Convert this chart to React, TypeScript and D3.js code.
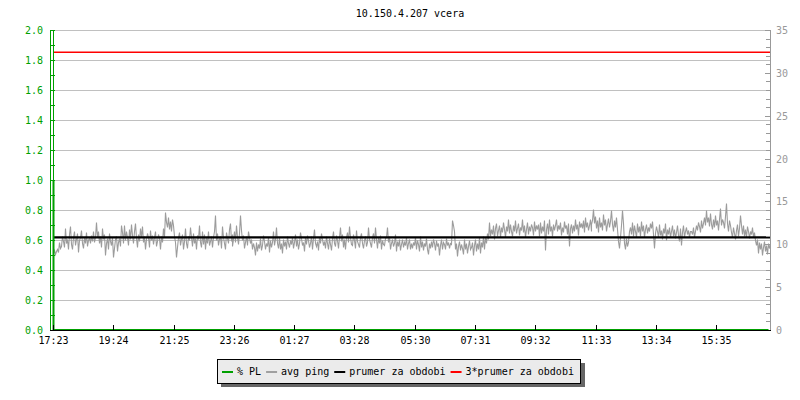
import React from 'react';
import * as d3 from 'd3';

const title = '10.150.4.207 vcera';
const xTickLabels = ['17:23', '19:24', '21:25', '23:26', '01:27', '03:28', '05:30', '07:31', '09:32', '11:33', '13:34', '15:35'];
const xTickStepMinutes = 121.08;
const totalMinutes = 1440;

// avg ping (ms), one sample every ~2 minutes
const pingValues = [
  9.0, 9.3, 8.9, 9.2, 9.5, 9.1, 10.3, 9.6, 9.8, 11.0, 10.4, 9.7, 11.9, 10.2, 10.6, 9.4, 11.2, 12.1, 10.0, 9.5,
  10.8, 11.5, 9.9, 10.6, 11.3, 9.1, 10.5, 10.9, 11.7, 10.2, 9.6, 10.8, 10.1, 11.4, 9.8, 10.5, 10.9, 10.2, 11.1, 10.4,
  11.6, 10.3, 10.9, 12.6, 10.8, 11.5, 10.2, 11.0, 9.7, 11.9, 10.6, 11.2, 8.8, 10.1, 10.7, 9.5, 11.3, 10.4, 9.9, 10.8,
  8.5, 9.6, 10.6, 11.0, 9.2, 10.3, 10.7, 9.8, 12.2, 11.4, 10.1, 12.3, 10.5, 11.6, 10.9, 9.9, 11.8, 10.6, 12.4, 11.1,
  10.2, 11.5, 12.5, 10.7, 9.7, 11.2, 10.4, 11.9, 10.8, 12.1, 10.3, 11.0, 9.4, 10.6, 11.3, 10.9, 9.7, 11.7, 10.5, 11.1,
  10.0, 10.8, 11.6, 9.8, 10.4, 11.2, 10.7, 9.5, 11.0, 10.3, 11.9, 10.8, 13.8, 12.6, 12.0, 13.2, 11.8, 12.7, 11.5, 12.9,
  12.2, 11.0, 10.3, 8.5, 9.7, 10.8, 11.4, 9.9, 10.6, 11.2, 9.5, 10.4, 11.9, 10.2, 9.6, 11.0, 10.5, 12.0, 10.9, 9.8,
  11.3, 10.1, 10.7, 9.4, 11.1, 10.6, 12.3, 10.3, 9.7, 11.5, 10.0, 11.2, 9.5, 10.8, 10.2, 11.6, 9.9, 10.4, 11.0, 9.7,
  10.9, 11.6, 13.4, 10.5, 11.3, 9.9, 10.6, 11.0, 9.6, 12.1, 10.8, 10.2, 9.5, 11.4, 10.7, 10.1, 11.8, 12.5, 10.4, 11.2,
  9.8, 10.6, 11.5, 10.3, 12.2, 10.9, 10.0, 11.3, 13.4, 11.7, 10.5, 11.1, 9.6, 10.3, 11.0, 9.9, 11.6, 10.8, 10.2, 10.6,
  9.4, 10.1, 9.7, 8.8, 10.3, 9.2, 10.0, 9.6, 10.7, 9.3, 9.9, 11.1, 10.4, 9.5, 10.2, 9.8, 10.8, 9.1, 10.5, 9.7,
  10.3, 11.5, 9.9, 10.6, 12.0, 10.1, 9.6, 10.8, 9.4, 10.2, 9.0, 10.6, 9.8, 10.4, 9.5, 11.0, 10.1, 9.7, 10.5, 10.0,
  10.9, 9.6, 10.3, 11.2, 9.8, 10.6, 9.4, 10.1, 11.4, 10.7, 9.9, 10.3, 9.2, 10.8, 10.0, 11.1, 10.5, 9.7, 10.2, 11.0,
  9.5, 10.7, 11.8, 10.2, 9.8, 10.4, 9.3, 10.9, 10.1, 11.3, 10.6, 9.9, 10.4, 9.6, 11.0, 10.2, 9.4, 10.7, 10.0, 9.3,
  10.7, 11.6, 10.2, 9.8, 11.1, 10.5, 9.6, 10.9, 12.0, 10.4, 11.2, 9.7, 10.6, 9.5, 10.9, 11.4, 10.3, 12.1, 10.8, 10.0,
  9.9, 11.2, 10.5, 9.6, 11.7, 10.4, 10.0, 9.7, 10.8, 11.3, 10.1, 9.6, 10.5, 11.0, 9.8, 10.3, 12.0, 10.6, 10.1, 9.7,
  10.8, 11.3, 10.2, 12.0, 10.6, 9.6, 10.9, 10.2, 11.1, 9.4, 10.5, 10.0, 9.9, 10.7, 10.8, 12.0, 10.3, 11.0, 9.5, 10.2,
  10.6, 9.8, 10.1, 11.2, 9.2, 10.4, 9.8, 10.6, 9.3, 10.0, 10.6, 9.7, 10.3, 9.9, 10.8, 9.5, 10.2, 10.6, 9.4, 10.1,
  9.6, 10.3, 9.9, 10.8, 9.4, 10.5, 10.0, 9.2, 11.0, 9.7, 10.4, 9.3, 10.1, 9.8, 10.7, 9.5, 8.9, 10.2, 9.6, 10.4,
  9.7, 10.6, 10.1, 9.3, 10.5, 9.8, 10.2, 8.8, 9.9, 10.6, 9.5, 10.3, 10.0, 9.4, 10.7, 9.9, 10.3, 9.6, 10.2, 10.0,
  12.8, 12.2, 11.5, 9.4, 10.1, 8.6, 9.8, 10.4, 9.3, 10.0, 9.6, 8.9, 10.6, 9.5, 10.2, 9.0, 9.8, 10.5, 9.4, 9.7,
  10.3, 8.7, 9.9, 10.6, 9.2, 10.1, 9.5, 10.8, 9.0, 10.3, 9.7, 11.0, 9.4, 10.8, 10.2, 11.3, 10.6, 12.6, 11.0, 11.8,
  11.2, 12.3, 10.6, 11.9, 12.5, 11.0, 11.7, 12.2, 10.8, 12.0, 11.4, 12.6, 11.8, 10.9, 12.1, 11.5, 13.0, 11.3, 12.4, 11.6,
  11.0, 12.2, 11.6, 12.8, 11.3, 11.9, 12.5, 11.1, 12.0, 11.7, 12.9, 11.4, 12.3, 10.9, 11.8, 12.6, 11.2, 12.1, 11.5, 12.4,
  12.0, 11.1, 12.7, 11.5, 12.2, 11.8, 12.4, 11.0, 12.6, 11.3, 12.1, 11.6, 12.8, 9.3, 11.8, 12.5, 11.2, 12.9, 11.6, 12.1,
  11.0, 12.4, 11.7, 12.2, 13.0, 11.5, 12.3, 11.8, 12.6, 11.1, 12.0, 11.4, 12.7, 11.9, 12.3, 11.2, 12.5, 9.8, 11.9, 12.4,
  11.3, 12.3, 11.6, 13.0, 11.8, 12.4, 11.1, 12.7, 12.0, 12.5, 11.9, 12.8, 11.4, 13.2, 12.0, 12.6, 11.7, 12.2, 12.9, 11.5,
  12.4, 12.8, 14.1, 12.5, 13.3, 11.9, 12.8, 11.4, 13.2, 12.0, 12.6, 11.7, 13.5, 12.2, 12.9, 11.6, 12.4, 13.1, 12.0, 12.7,
  14.0, 12.4, 11.5, 12.8, 12.0, 13.2, 11.8, 10.4, 9.6, 10.8, 12.2, 14.0, 12.5, 10.2, 9.4, 10.7, 9.8, 10.3, 11.6, 12.0,
  11.2, 12.6, 11.0, 12.3, 11.6, 10.9, 12.5, 11.4, 12.1, 11.0, 12.7, 11.5, 12.2, 10.9, 11.8, 12.4, 11.3, 12.0, 11.6, 12.5,
  11.9, 12.7, 11.2, 9.6, 11.3, 12.1, 11.5, 10.8, 12.4, 11.1, 11.7, 10.6, 11.9, 11.3, 12.5, 10.5, 11.8, 11.2, 12.0, 10.9,
  11.6, 12.2, 11.0, 11.8, 10.7, 11.4, 12.3, 11.1, 10.4, 11.9, 9.9, 11.4, 12.2, 10.9, 11.5, 12.0, 11.2, 11.7, 10.8, 11.6,
  11.6, 11.2, 12.0, 10.8, 11.5, 12.3, 11.7, 12.6, 12.1, 11.4, 12.8, 11.9, 12.5, 13.2, 12.2, 14.0, 12.6, 13.2, 12.1, 13.6,
  12.4, 11.8, 12.9, 12.0, 13.4, 12.3, 12.8, 11.7, 13.0, 14.2, 12.3, 13.0, 12.6, 11.9, 13.3, 14.8, 12.5, 11.6, 12.8, 12.2,
  11.4, 10.8, 12.0, 11.3, 10.6, 11.7, 12.4, 11.0, 11.9, 13.4, 12.2, 11.2, 12.3, 11.0, 11.8, 10.9, 12.1, 11.5, 10.7, 11.6,
  11.2, 12.0, 10.9, 11.4, 10.5, 9.9, 10.6, 9.0, 10.3, 9.5, 10.1, 8.8, 9.7, 10.4, 9.2, 9.9, 8.9, 10.2, 9.6, 10.0,
];

const meanPing = 10.8;
const plMinutes = [0, 4, 1436];
const plValues = [1.0, 0, 0];

const legendLabels = ['% PL', 'avg ping', 'prumer za obdobi', '3*prumer za obdobi'];
const legendColors = ['#00a000', '#a0a0a0', '#000000', '#ff0000'];

const GREEN = '#00a000';
const GRID = '#c0c0c0';
const FONT = '"DejaVu Sans Mono", monospace';
const CHAR_W = 6.02;

export default function App() {
  const left = 53, right = 770, top = 30, bottom = 330;
  const x = d3.scaleLinear().domain([0, totalMinutes]).range([left, right]);
  const yL = d3.scaleLinear().domain([0, 2]).range([bottom, top]);
  const yR = d3.scaleLinear().domain([0, 35]).range([bottom, top]);
  const step = totalMinutes / (pingValues.length - 1);

  const pingLine = d3.line<number>()
    .x((_, i) => Math.round(x(i * step)) + 0.5)
    .y((d) => Math.round(yR(d)) + 0.5)(pingValues) || '';

  const plLine = d3.line<number>()
    .curve(d3.curveStepBefore)
    .x((_, i) => x(plMinutes[i]) + 0.5)
    .y((d) => yL(d))(plValues) || '';

  const leftMinor = d3.range(0, 21).map((k) => k / 10);
  const leftMajor = d3.range(0, 11).map((k) => k / 5);
  const rightMinor = d3.range(0, 36);
  const rightMajor = d3.range(0, 36, 5);

  let cx = 222;
  const legendPos = legendLabels.map((lab) => {
    const sx = cx;
    const tx = sx + 15;
    cx = tx + lab.length * CHAR_W + 5;
    return { sx, tx };
  });

  const snap = (v: number) => Math.round(v) + 0.5;

  return (
    <svg width={800} height={400} style={{ position: 'absolute', left: 0, top: 0, background: '#fff' }}
      fontFamily={FONT} fontSize={10}>
      <rect x={0} y={0} width={800} height={400} fill="#fff" />
      <text x={410} y={14} textAnchor="middle" dominantBaseline="middle" fill="#000">{title}</text>

      {leftMajor.filter((v) => v > 0).map((v) => (
        <line key={'g' + v} x1={left} x2={right} y1={snap(yL(v))} y2={snap(yL(v))} stroke={GRID} strokeWidth={1} />
      ))}

      <line x1={left} x2={right} y1={yR(meanPing * 3)} y2={yR(meanPing * 3)} stroke="#ff0000" strokeWidth={1.5} />

      <path d={pingLine} fill="none" stroke="#9c9c9c" strokeWidth={1.1} />

      <line x1={left} x2={right} y1={yR(meanPing)} y2={yR(meanPing)} stroke="#000" strokeWidth={2.2} />

      <path d={plLine} fill="none" stroke={GREEN} strokeWidth={2} />

      <line x1={50.5} x2={50.5} y1={top} y2={bottom} stroke={GREEN} />
      <line x1={53.5} x2={53.5} y1={top} y2={bottom} stroke={GREEN} />
      {leftMinor.map((v) => (
        <line key={'lt' + v} x1={50} x2={55} y1={snap(yL(v))} y2={snap(yL(v))} stroke={GREEN} />
      ))}
      {leftMajor.map((v) => (
        <text key={'ll' + v} x={43} y={yL(v) + 1} textAnchor="end" dominantBaseline="middle" fill={GREEN}>
          {v.toFixed(1)}
        </text>
      ))}

      <line x1={770.5} x2={770.5} y1={top} y2={bottom} stroke="#999" />
      {rightMinor.map((v) => (
        <line key={'rt' + v} x1={rightMajor.includes(v) ? 765 : 766} x2={770} y1={snap(yR(v))} y2={snap(yR(v))} stroke="#999" />
      ))}
      {rightMajor.map((v) => (
        <text key={'rl' + v} x={776} y={yR(v) + 1} dominantBaseline="middle" fill="#999">{v}</text>
      ))}

      <line x1={50} x2={771} y1={330.5} y2={330.5} stroke="#000" />
      {xTickLabels.map((lab, k) => {
        const px = snap(x(k * xTickStepMinutes));
        return (
          <g key={lab}>
            <line x1={px} x2={px} y1={325} y2={330} stroke="#000" />
            <text x={px} y={341} textAnchor="middle" dominantBaseline="middle" fill="#000">{lab}</text>
          </g>
        );
      })}

      <rect x={221} y={363} width={364} height={24} fill="#666" />
      <rect x={217.5} y={359.5} width={363} height={24} fill="#ebebeb" stroke="#000" />
      {legendLabels.map((lab, i) => (
        <g key={lab}>
          <line x1={legendPos[i].sx} x2={legendPos[i].sx + 11} y1={372} y2={372} stroke={legendColors[i]} strokeWidth={2} />
          <text x={legendPos[i].tx} y={371.5} dominantBaseline="middle" fill="#000">{lab}</text>
        </g>
      ))}
    </svg>
  );
}
